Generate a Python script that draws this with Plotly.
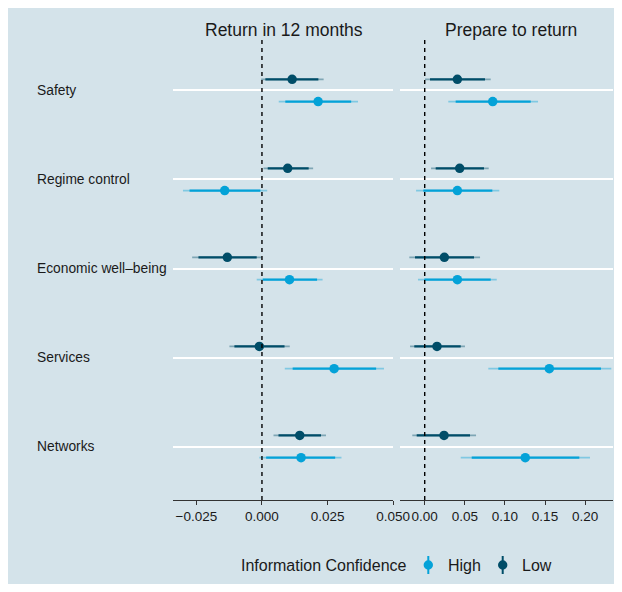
import plotly.graph_objects as go
from plotly.subplots import make_subplots

categories = ["Safety", "Regime control", "Economic well–being", "Services", "Networks"]
cat_pos = [5, 4, 3, 2, 1]
panels = ["Return in 12 months", "Prepare to return"]
groups = ["High", "Low"]

# Return in 12 months
ret_low_est = [0.0115, 0.0098, -0.0132, -0.0010, 0.0144]
ret_low_lo90 = [0.0013, 0.0022, -0.0242, -0.0105, 0.0063]
ret_low_hi90 = [0.0215, 0.0178, -0.0020, 0.0086, 0.0225]
ret_low_lo95 = [-0.0003, 0.0006, -0.0266, -0.0124, 0.0044]
ret_low_hi95 = [0.0235, 0.0195, -0.0001, 0.0106, 0.0244]

ret_high_est = [0.0214, -0.0142, 0.0105, 0.0275, 0.0149]
ret_high_lo90 = [0.0089, -0.0276, 0.0003, 0.0117, 0.0016]
ret_high_hi90 = [0.0340, -0.0006, 0.0210, 0.0435, 0.0279]
ret_high_lo95 = [0.0064, -0.0301, -0.0020, 0.0087, -0.0010]
ret_high_hi95 = [0.0366, 0.0020, 0.0231, 0.0465, 0.0303]

# Prepare to return
prep_low_est = [0.0407, 0.0436, 0.0245, 0.0153, 0.0241]
prep_low_lo90 = [0.0066, 0.0137, -0.0121, -0.0130, -0.0100]
prep_low_hi90 = [0.0752, 0.0739, 0.0615, 0.0449, 0.0565]
prep_low_lo95 = [0.0004, 0.0079, -0.0192, -0.0183, -0.0155]
prep_low_hi95 = [0.0823, 0.0798, 0.0690, 0.0502, 0.0640]

prep_high_est = [0.0848, 0.0407, 0.0407, 0.1554, 0.1254]
prep_high_lo90 = [0.0386, -0.0017, -0.0005, 0.0918, 0.0586]
prep_high_hi90 = [0.1322, 0.0843, 0.0823, 0.2198, 0.1928]
prep_high_lo95 = [0.0294, -0.0108, -0.0084, 0.0793, 0.0449]
prep_high_hi95 = [0.1413, 0.0930, 0.0898, 0.2327, 0.2061]

left_ticks = [-0.025, 0.0, 0.025, 0.05]
right_ticks = [0.0, 0.05, 0.10, 0.15, 0.20]

BG = "#d4e3ea"
C_HIGH = "#04a2d8"
C_LOW = "#004d68"
FONT = "Liberation Sans, Arial, Helvetica, sans-serif"
TXT = "#1a1a1a"

OFF = 8  # page body margin
W, H = 606, 576
ML, MT = 173 - OFF, 37 - OFF
MR = 1
MB = H - (500 - OFF)
PW = W - ML - MR
PH = H - MT - MB


def px_x(p):
    return (p - OFF - ML) / PW


def px_y(p):
    return (H - MB - (p - OFF)) / PH


fig = make_subplots(rows=1, cols=2, shared_yaxes=True)

data = {
    (1, "Low"): (ret_low_est, ret_low_lo90, ret_low_hi90, ret_low_lo95, ret_low_hi95),
    (1, "High"): (ret_high_est, ret_high_lo90, ret_high_hi90, ret_high_lo95, ret_high_hi95),
    (2, "Low"): (prep_low_est, prep_low_lo90, prep_low_hi90, prep_low_lo95, prep_low_hi95),
    (2, "High"): (prep_high_est, prep_high_lo90, prep_high_hi90, prep_high_lo95, prep_high_hi95),
}
offset = {"Low": 0.125, "High": -0.125}
colors = {"Low": C_LOW, "High": C_HIGH}

for col in (1, 2):
    for g in ("High", "Low"):
        est, lo90, hi90, lo95, hi95 = data[(col, g)]
        ys = [p + offset[g] for p in cat_pos]
        xs95, ys95, xs90, ys90 = [], [], [], []
        for i in range(len(ys)):
            xs95 += [lo95[i], hi95[i], None]
            ys95 += [ys[i], ys[i], None]
            xs90 += [lo90[i], hi90[i], None]
            ys90 += [ys[i], ys[i], None]
        fig.add_trace(go.Scatter(x=xs95, y=ys95, mode="lines",
                                 line=dict(color=colors[g], width=1.8),
                                 opacity=0.4, showlegend=False, hoverinfo="skip"),
                      row=1, col=col)
        fig.add_trace(go.Scatter(x=xs90, y=ys90, mode="lines",
                                 line=dict(color=colors[g], width=2.2),
                                 showlegend=False, hoverinfo="skip"),
                      row=1, col=col)
        fig.add_trace(go.Scatter(x=est, y=ys, mode="markers",
                                 marker=dict(color=colors[g], size=9.5, line=dict(width=0)),
                                 name=g, showlegend=False),
                      row=1, col=col)

axis_common = dict(showgrid=False, zeroline=False, showline=True, linecolor="#333333",
                   linewidth=1, ticks="outside", ticklen=4, tickcolor="#333333",
                   automargin=False,
                   tickfont=dict(size=13.5, color=TXT, family=FONT))
fig.update_xaxes(range=[-0.0339, 0.05005], tickvals=left_ticks, tickformat=".3f",
                 domain=[px_x(173), px_x(393.3)], row=1, col=1, **axis_common)
fig.update_xaxes(range=[-0.0312, 0.2348], tickvals=right_ticks, tickformat=".2f",
                 domain=[px_x(399.7), 1.0], row=1, col=2, **axis_common)
fig.update_yaxes(range=[0.4, 5.6], tickvals=cat_pos, showticklabels=False, ticks="",
                 showgrid=True, gridcolor="white", gridwidth=2, zeroline=False,
                 showline=False, automargin=False)

shapes = []
for xr in ("x", "x2"):
    shapes.append(dict(type="line", xref=xr, yref="y domain", x0=0, x1=0, y0=0, y1=1,
                       line=dict(color="black", width=1.4, dash="4px,4px"), layer="above"))

# legend keys
for g, xp in (("High", 428.3), ("Low", 502.7)):
    shapes.append(dict(type="line", xref="paper", yref="paper", x0=px_x(xp), x1=px_x(xp),
                       y0=px_y(556), y1=px_y(574), line=dict(color=colors[g], width=2)))
    shapes.append(dict(type="circle", xref="paper", yref="paper",
                       xsizemode="pixel", ysizemode="pixel",
                       xanchor=px_x(xp), yanchor=px_y(565),
                       x0=-4.7, x1=4.7, y0=-4.7, y1=4.7,
                       fillcolor=colors[g], line=dict(width=0)))

annotations = []
for i, c in enumerate(categories):
    annotations.append(dict(text=c, xref="paper", yref="y", x=px_x(35), y=cat_pos[i],
                            xanchor="left", yanchor="middle", showarrow=False,
                            font=dict(size=13.8, color=TXT, family=FONT)))
annotations.append(dict(text=panels[0], xref="paper", yref="paper", x=px_x(284), y=px_y(30),
                        xanchor="center", yanchor="middle", showarrow=False,
                        font=dict(size=17.5, color=TXT, family=FONT)))
annotations.append(dict(text=panels[1], xref="paper", yref="paper", x=px_x(511), y=px_y(30),
                        xanchor="center", yanchor="middle", showarrow=False,
                        font=dict(size=17.5, color=TXT, family=FONT)))
annotations.append(dict(text="Information Confidence", xref="paper", yref="paper",
                        x=px_x(409), y=px_y(565), xanchor="right", yanchor="middle",
                        showarrow=False, font=dict(size=16, color=TXT, family=FONT)))
annotations.append(dict(text=groups[0], xref="paper", yref="paper",
                        x=px_x(446), y=px_y(565), xanchor="left", yanchor="middle",
                        showarrow=False, font=dict(size=16, color=TXT, family=FONT)))
annotations.append(dict(text=groups[1], xref="paper", yref="paper",
                        x=px_x(520), y=px_y(565), xanchor="left", yanchor="middle",
                        showarrow=False, font=dict(size=16, color=TXT, family=FONT)))

fig.update_layout(width=W, height=H, autosize=False,
                  margin=dict(l=ML, r=MR, t=MT, b=MB, autoexpand=False),
                  paper_bgcolor=BG, plot_bgcolor=BG, showlegend=False,
                  shapes=shapes, annotations=annotations,
                  font=dict(family=FONT, color=TXT))

fig.write_html("out.html")
